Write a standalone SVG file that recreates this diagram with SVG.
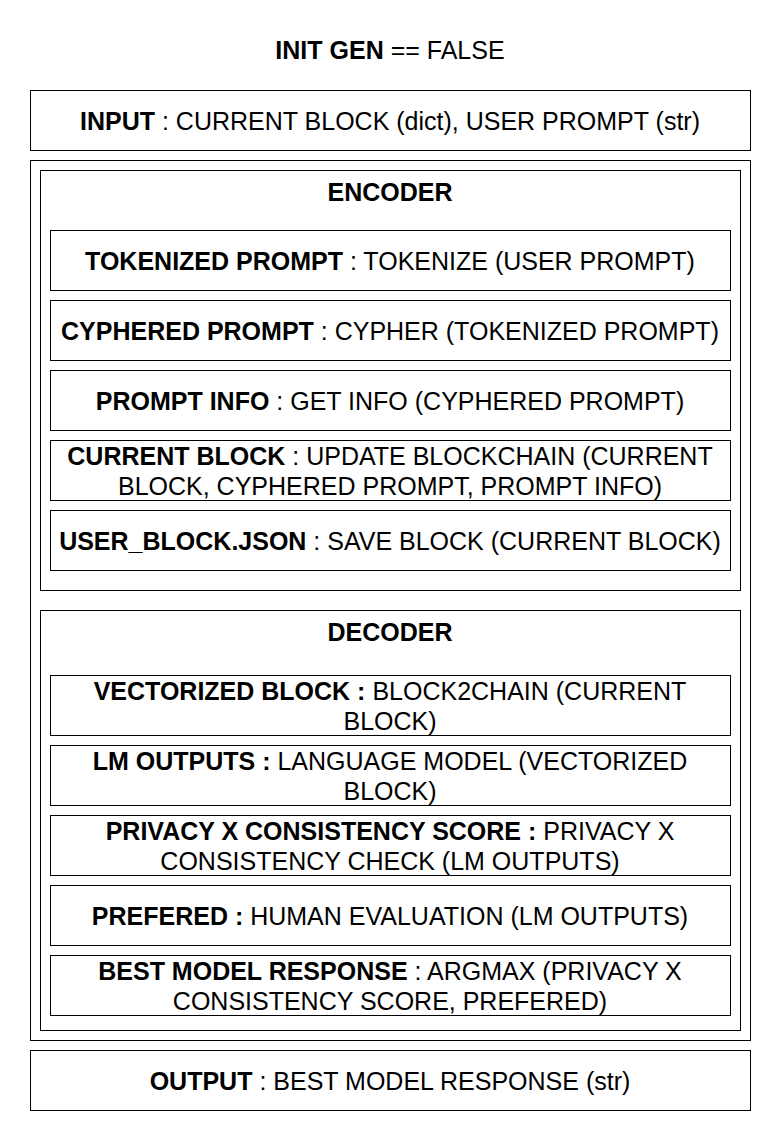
<svg xmlns="http://www.w3.org/2000/svg" width="770" height="1140" viewBox="0 0 770 1140">
  <style>
    .box { fill: #ffffff; stroke: #000000; stroke-width: 1; }
    .t { font-family: "Liberation Sans", Arial, sans-serif; font-size: 25px; fill: #000000; text-anchor: middle; }
    .b { font-weight: bold; }
  </style>
  <rect width="770" height="1140" fill="#ffffff"/>

  <g id="title">
    <text class="t" x="390" y="59"><tspan class="b">INIT GEN</tspan> == FALSE</text>
  </g>

  <g id="input">
    <rect class="box" x="30.5" y="90.5" width="720" height="60"/>
    <text class="t" x="390" y="130"><tspan class="b">INPUT</tspan> : CURRENT BLOCK (dict), USER PROMPT (str)</text>
  </g>

  <g id="pipeline">
    <rect class="box" x="30.5" y="160.5" width="720" height="880"/>
  </g>

  <g id="encoder">
    <rect class="box" x="40.5" y="170.5" width="700" height="420"/>
    <text class="t b" x="390" y="201">ENCODER</text>
  </g>

  <g id="tokenized-prompt">
    <rect class="box" x="50.5" y="230.5" width="680" height="60"/>
    <text class="t" x="390" y="270"><tspan class="b">TOKENIZED PROMPT</tspan> : TOKENIZE (USER PROMPT)</text>
  </g>

  <g id="cyphered-prompt">
    <rect class="box" x="50.5" y="300.5" width="680" height="60"/>
    <text class="t" x="390" y="340"><tspan class="b">CYPHERED PROMPT</tspan> : CYPHER (TOKENIZED PROMPT)</text>
  </g>

  <g id="prompt-info">
    <rect class="box" x="50.5" y="370.5" width="680" height="60"/>
    <text class="t" x="390" y="410"><tspan class="b">PROMPT INFO</tspan> : GET INFO (CYPHERED PROMPT)</text>
  </g>

  <g id="current-block">
    <rect class="box" x="50.5" y="440.5" width="680" height="60"/>
    <text class="t" x="390" y="465"><tspan class="b">CURRENT BLOCK</tspan> : UPDATE BLOCKCHAIN (CURRENT</text>
    <text class="t" x="390" y="495">BLOCK, CYPHERED PROMPT, PROMPT INFO)</text>
  </g>

  <g id="user-block-json">
    <rect class="box" x="50.5" y="510.5" width="680" height="60"/>
    <text class="t" x="390" y="550"><tspan class="b">USER_BLOCK.JSON</tspan> : SAVE BLOCK (CURRENT BLOCK)</text>
  </g>

  <g id="decoder">
    <rect class="box" x="40.5" y="610.5" width="700" height="420"/>
    <text class="t b" x="390" y="641">DECODER</text>
  </g>

  <g id="vectorized-block">
    <rect class="box" x="50.5" y="675.5" width="680" height="60"/>
    <text class="t" x="390" y="700"><tspan class="b">VECTORIZED BLOCK :</tspan> BLOCK2CHAIN (CURRENT</text>
    <text class="t" x="390" y="730">BLOCK)</text>
  </g>

  <g id="lm-outputs">
    <rect class="box" x="50.5" y="745.5" width="680" height="60"/>
    <text class="t" x="390" y="770"><tspan class="b">LM OUTPUTS :</tspan> LANGUAGE MODEL (VECTORIZED</text>
    <text class="t" x="390" y="800">BLOCK)</text>
  </g>

  <g id="privacy-score">
    <rect class="box" x="50.5" y="815.5" width="680" height="60"/>
    <text class="t" x="390" y="840"><tspan class="b">PRIVACY X CONSISTENCY SCORE :</tspan> PRIVACY X</text>
    <text class="t" x="390" y="870">CONSISTENCY CHECK (LM OUTPUTS)</text>
  </g>

  <g id="prefered">
    <rect class="box" x="50.5" y="885.5" width="680" height="60"/>
    <text class="t" x="390" y="925"><tspan class="b">PREFERED :</tspan> HUMAN EVALUATION (LM OUTPUTS)</text>
  </g>

  <g id="best-model-response">
    <rect class="box" x="50.5" y="955.5" width="680" height="60"/>
    <text class="t" x="390" y="980"><tspan class="b">BEST MODEL RESPONSE</tspan> : ARGMAX (PRIVACY X</text>
    <text class="t" x="390" y="1010">CONSISTENCY SCORE, PREFERED)</text>
  </g>

  <g id="output">
    <rect class="box" x="30.5" y="1050.5" width="720" height="60"/>
    <text class="t" x="390" y="1090"><tspan class="b">OUTPUT</tspan> : BEST MODEL RESPONSE (str)</text>
  </g>

  <g id="connectors"/>
</svg>
